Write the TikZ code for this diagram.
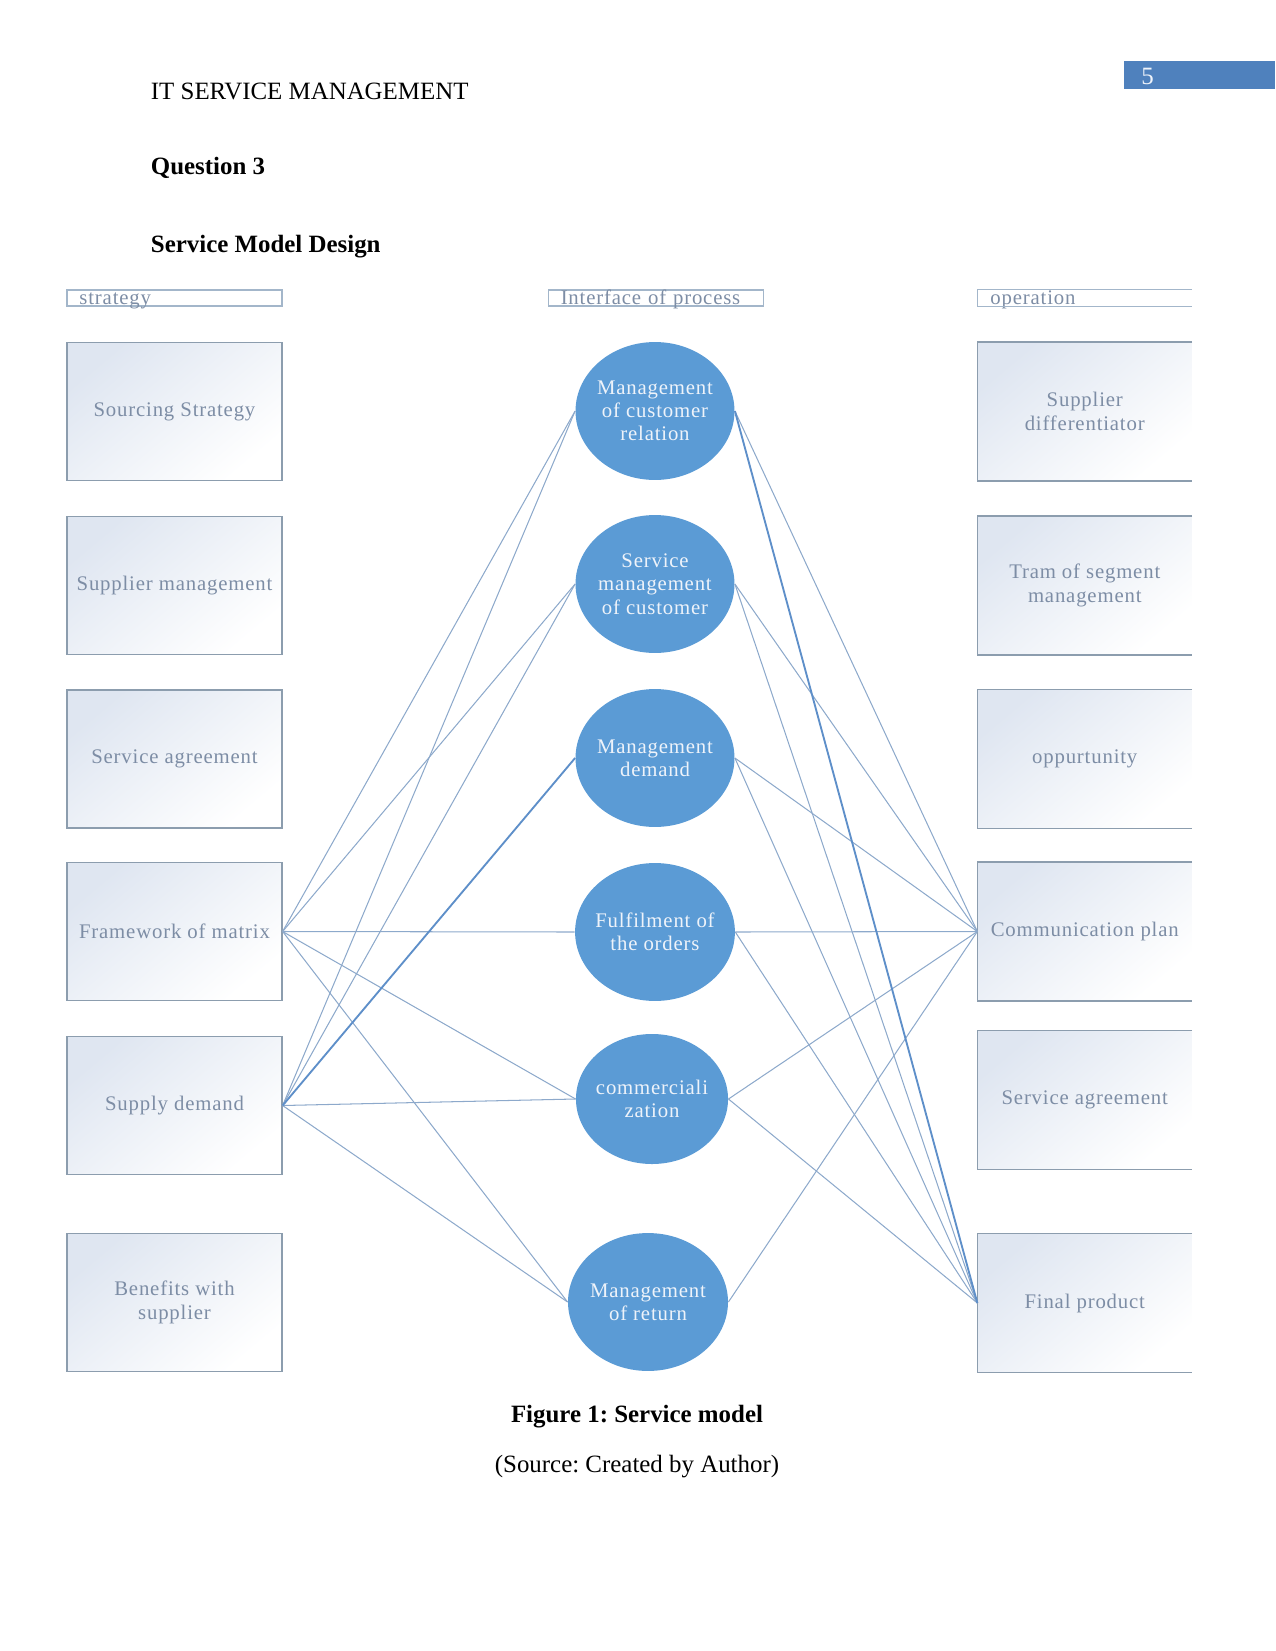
\documentclass[tikz,border=0pt]{standalone}
\usepackage{fontspec}
\setmainfont{Liberation Serif}
\newfontfamily\dgmfont[LetterSpace=4]{Liberation Serif}
\usetikzlibrary{shapes.geometric}
\frenchspacing
\definecolor{boxline}{HTML}{8C9DAE}
\definecolor{boxtint}{HTML}{DFE6F1}
\definecolor{boxtext}{HTML}{7D8DA5}
\definecolor{headline}{HTML}{A3B6CA}
\definecolor{procfill}{HTML}{5B9BD5}
\definecolor{proctext}{HTML}{EEF3FA}
\definecolor{linkcol}{HTML}{8DA9CB}
\definecolor{strongcol}{HTML}{5E8FC9}
\definecolor{pagebar}{HTML}{4F81BD}

\begin{document}
\begin{tikzpicture}[x=0.48bp, y=-0.48bp,
  dgm/.style={font={\dgmfont\fontsize{10}{11.2}\selectfont}},
  page/.style={inner sep=0pt, font={\fontsize{12}{14}\selectfont}},
  box/.style={dgm, rectangle, draw=boxline, line width=0.6pt, top color=boxtint, middle color=white, bottom color=white, shading angle=40,
    minimum width=103.2bp, minimum height=66.2bp, inner sep=2bp, align=center, text=boxtext},
  opbox/.style={box, draw=none, minimum width=102.5bp},
  headbox/.style={dgm, rectangle, draw=headline, line width=0.6pt, minimum width=103.2bp, text width=91.2bp,
    inner xsep=6bp, inner ysep=0pt, text height=7.1bp, text depth=0.6bp, align=left, text=boxtext},
  proc/.style={dgm, ellipse, fill=procfill, minimum width=76.3bp, minimum height=66.2bp,
    inner xsep=-1.5bp, inner ysep=0pt, align=center, text=proctext},
  link/.style={draw=linkcol, line width=0.5pt},
  strong/.style={draw=strongcol, line width=0.9pt}]
  \useasboundingbox (0,0) rectangle (1275,1651);

  \node[page, anchor=base west] (head) at (150.5,99) {IT SERVICE MANAGEMENT};
  \node[fill=pagebar, anchor=north west, minimum width=72.5bp, minimum height=13bp, inner sep=0pt] (pgbar) at (1124,61) {};
  \node[page, anchor=base west, text=proctext] (pgnum) at (1141,84) {5};
  \node[page, anchor=base west, font=\bfseries\fontsize{12}{14}\selectfont] (quest) at (150.5,174) {Question 3};
  \node[page, anchor=base west, font=\bfseries\fontsize{12}{14}\selectfont] (sect) at (150.5,252) {Service Model Design};

  \node[headbox] (hs) at (174.5,298) {strategy};
  \node[headbox] (hi) at (655.75,298) {Interface of process};
  \node[headbox, draw=none, minimum width=102.5bp, text width=90.5bp] (ho) at (1084.75,298) {operation};
  \draw[headline, line width=0.6pt] (ho.north east) -- (ho.north west) -- (ho.south west) -- (ho.south east);

  \node[box] (ss) at (174.5,411.5) {Sourcing Strategy};
  \node[box] (sm) at (174.5,585.5) {Supplier management};
  \node[box] (sa) at (174.5,759) {Service agreement};
  \node[box] (fm) at (174.5,931.5) {Framework of matrix};
  \node[box] (sd) at (174.5,1105.5) {Supply demand};
  \node[box] (bs) at (174.5,1302.5) {Benefits with\\supplier};

  \node[proc] (mcr) at (655,411) {Management\\of customer\\relation};
  \node[proc] (smc) at (655,584) {Service\\management\\of customer};
  \node[proc] (mdm) at (655,758) {Management\\demand};
  \node[proc] (fo) at (655,932) {Fulfilment of\\the orders};
  \node[proc, minimum width=73bp, minimum height=62.4bp] (com) at (652,1099) {commerciali\\zation};
  \node[proc, minimum width=76.8bp] (mr) at (648,1302) {Management\\of return};

  \node[opbox] (sdf) at (1084.75,411.5) {Supplier\\differentiator};
  \node[opbox] (tsm) at (1084.75,585.5) {Tram of segment\\management};
  \node[opbox] (opp) at (1084.75,759) {oppurtunity};
  \node[opbox] (cp) at (1084.75,931.5) {Communication plan};
  \node[opbox] (sag) at (1084.75,1100) {Service agreement};
  \node[opbox] (fp) at (1084.75,1303) {Final product};
  \foreach \n in {sdf,tsm,opp,cp,sag,fp}
    \draw[boxline, line width=0.6pt] (\n.north east) -- (\n.north west) -- (\n.south west) -- (\n.south east);

  \foreach \s/\t in {fm/mcr, fm/smc, fm/fo, fm/com, fm/mr, sd/mcr, sd/smc, sd/com, sd/mr}
    \draw[link] (\s.east) -- (\t.west);
  \draw[strong] (sd.east) -- (mdm.west);
  \foreach \s/\t in {mcr/cp, smc/cp, smc/fp, mdm/cp, mdm/fp, fo/cp, fo/fp, com/cp, com/fp, mr/cp}
    \draw[link] (\s.east) -- (\t.west);
  \draw[strong] (mcr.east) -- (fp.west);

  \node[page, anchor=base, font=\bfseries\fontsize{12}{14}\selectfont] (cap) at (637,1422) {Figure 1: Service model};
  \node[page, anchor=base] (src) at (637,1472) {(Source: Created by Author)};
\end{tikzpicture}
\end{document}
